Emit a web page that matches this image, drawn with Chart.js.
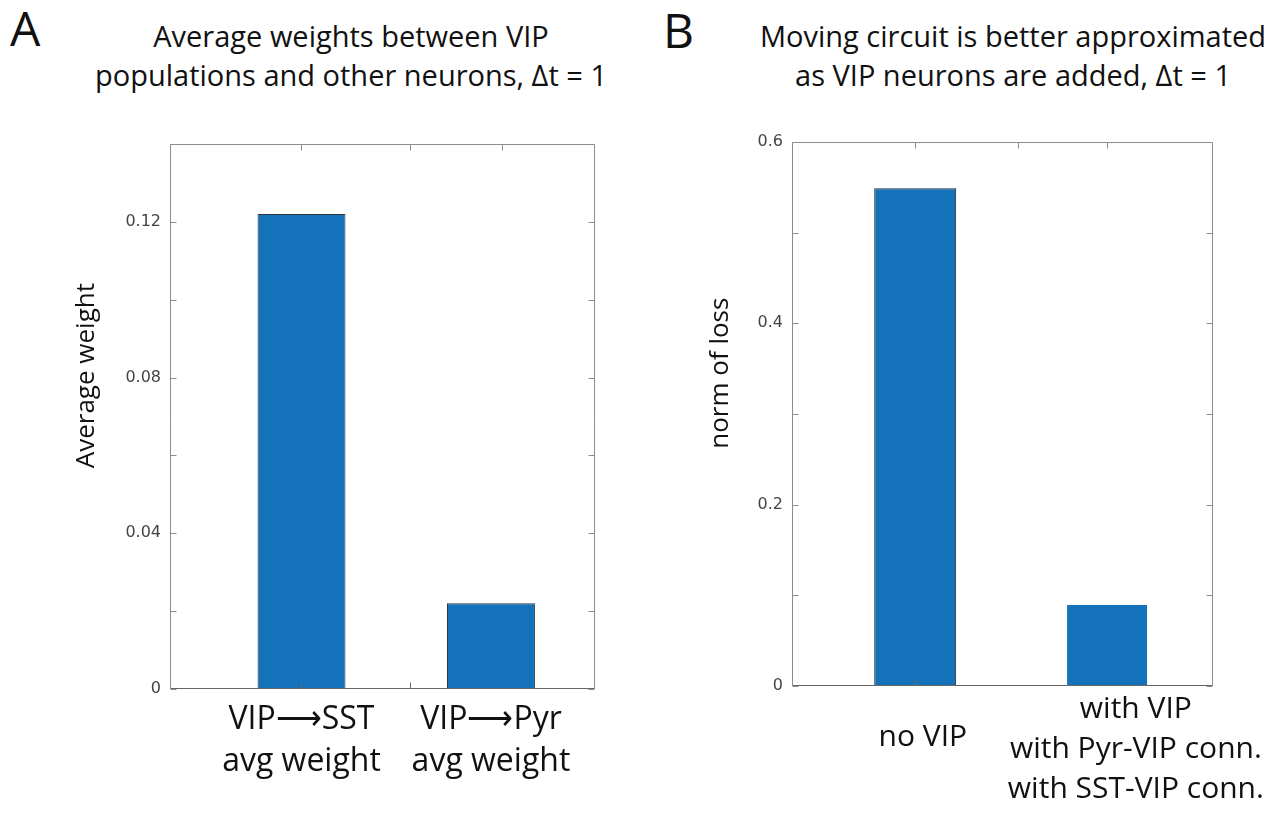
<!DOCTYPE html>
<html>
<head>
<meta charset="utf-8">
<title>VIP weights and loss</title>
<script src="https://cdn.jsdelivr.net/npm/chart.js@4.4.1/dist/chart.umd.min.js"></script>
<style>
    body {
        margin: 0;
        width: 1285px;
        height: 819px;
        position: relative;
        overflow: hidden;
        background: #fff;
        font-family: "Open Sans", sans-serif;
        color: #111;
    }
    .panel { position: absolute; top: 0; height: 819px; }
    .letter { position: absolute; font-size: 48px; line-height: 48px; }
    .title {
        position: absolute;
        text-align: center;
        font-size: 29px;
        line-height: 39px;
        white-space: nowrap;
    }
</style>
</head>
<body>
<div class="letter" style="left:10px; top:4px;">A</div>
<div class="title" style="left:51px; width:600px; top:16px;">Average weights between VIP<br>populations and other neurons, Δt = 1</div>
<div class="letter" style="left:663px; top:6px;">B</div>
<div class="title" style="left:713px; width:600px; top:16px;">Moving circuit is better approximated<br>as VIP neurons are added, Δt = 1</div>

<div class="panel" style="left:0; width:640px;"><canvas id="weightChart"></canvas></div>
<div class="panel" style="left:640px; width:645px;"><canvas id="lossChart"></canvas></div>

<script>
// Panel A: average VIP weights
const weightLabels = [['VIP⟶SST', 'avg weight'], ['VIP⟶Pyr', 'avg weight']];
const weightPos = [1, 2];
const weightValues = [0.122, 0.022];
const weightLabelAt = [1, 2];
const weightTopTicks = [1, 1.575, 2.06];
const weightBottomTicks = [1, 1.575];
const weightTickLabels = ['0', '0.04', '0.08', '0.12'];

// Panel B: norm of loss with / without VIP
const lossLabels = [['no VIP'], ['with VIP', 'with Pyr-VIP conn.', 'with SST-VIP conn.']];
const lossPos = [1, 2];
const lossValues = [0.549, 0.0905];
const lossLabelAt = [1.04, 2.15];
const lossTopTicks = [1, 1.536, 2];
const lossBottomTicks = [1];
const lossTickLabels = ['0', '0.2', '0.4', '0.6'];

const BAR_BLUE = '#1372ba';

// MATLAB-style box with inward ticks, plus the rotated y label
const axesBox = {
    id: 'axesBox',
    afterDatasetsDraw(chart, args, opts) {
        const { ctx, chartArea: a, scales: { x, y } } = chart;
        const len = 6;
        const L = Math.round(a.left) + 0.5, R = Math.round(a.right) - 0.5;
        const T = Math.round(a.top) + 0.5, B = Math.round(a.bottom) - 0.5;
        ctx.save();
        ctx.lineWidth = 1;
        ctx.strokeStyle = '#8c8c8c';
        ctx.beginPath();
        ctx.moveTo(L, B); ctx.lineTo(L, T); ctx.lineTo(R, T); ctx.lineTo(R, B);
        y.ticks.forEach(t => {
            const py = Math.round(y.getPixelForValue(t.value)) + 0.5;
            ctx.moveTo(L, py); ctx.lineTo(L + len, py);
            ctx.moveTo(R, py); ctx.lineTo(R - len, py);
        });
        opts.top.forEach(v => {
            const px = Math.round(x.getPixelForValue(v)) + 0.5;
            ctx.moveTo(px, T); ctx.lineTo(px, T + len);
        });
        ctx.stroke();

        ctx.strokeStyle = '#666';
        ctx.beginPath();
        ctx.moveTo(L, B); ctx.lineTo(R, B);
        opts.bottom.forEach(v => {
            const px = Math.round(x.getPixelForValue(v)) + 0.5;
            ctx.moveTo(px, B); ctx.lineTo(px, B - len);
        });
        ctx.stroke();

        ctx.translate(a.left - opts.titleOffset, a.top + opts.titleFrac * (a.bottom - a.top));
        ctx.rotate(-Math.PI / 2);
        ctx.fillStyle = '#111';
        ctx.font = '26px "Open Sans"';
        ctx.textAlign = 'center';
        ctx.textBaseline = 'middle';
        ctx.fillText(opts.title, 0, 0);
        ctx.restore();
    }
};

function tickText(list) {
    return v => list.find(s => Math.abs(Number(s) - v) < 1e-9) ?? '';
}

function makePanel(id, p) {
    return new Chart(document.getElementById(id), {
        type: 'bar',
        data: {
            datasets: [{
                data: p.pos.map((x, i) => ({ x: x, y: p.values[i] })),
                backgroundColor: BAR_BLUE,
                borderColor: p.borders,
                borderWidth: 1,
                borderSkipped: 'bottom',
                barPercentage: p.barPct,
                categoryPercentage: 1
            }]
        },
        plugins: [axesBox],
        options: {
            responsive: true,
            maintainAspectRatio: false,
            animation: false,
            devicePixelRatio: 1,
            layout: { padding: p.padding },
            plugins: {
                legend: { display: false },
                tooltip: { enabled: false },
                axesBox: {
                    top: p.topTicks,
                    bottom: p.bottomTicks,
                    title: p.yTitle,
                    titleOffset: p.titleOffset,
                    titleFrac: 0.425
                }
            },
            scales: {
                x: {
                    type: 'linear',
                    min: p.xMin,
                    max: p.xMax,
                    offset: false,
                    grid: { display: false, drawTicks: false },
                    border: { display: false },
                    afterBuildTicks: s => { s.ticks = p.labelAt.map(v => ({ value: v })); },
                    afterFit: s => { s.height = p.xHeight; },
                    ticks: {
                        autoSkip: false,
                        maxRotation: 0,
                        minRotation: 0,
                        padding: p.xPad,
                        color: '#111',
                        font: p.xFont,
                        callback: (v, i) => p.labels[i]
                    }
                },
                y: {
                    min: 0,
                    max: p.yMax,
                    grid: { display: false, drawTicks: false },
                    border: { display: false },
                    afterFit: s => { s.width = p.yWidth; },
                    ticks: {
                        stepSize: p.step,
                        padding: 9,
                        color: '#444',
                        font: { family: 'DejaVu Sans', size: 16 },
                        callback: tickText(p.tickLabels)
                    }
                }
            }
        }
    });
}

makePanel('weightChart', {
    pos: weightPos,
    values: weightValues,
    labels: weightLabels,
    labelAt: weightLabelAt,
    topTicks: weightTopTicks,
    bottomTicks: weightBottomTicks,
    tickLabels: weightTickLabels,
    borders: ['#333', '#333'],
    barPct: 0.464,
    xMin: 0.306,
    xMax: 2.549,
    yMax: 0.14,
    step: 0.02,
    padding: { left: 0, top: 144, right: 45, bottom: 0 },
    yWidth: 170,
    xHeight: 130,
    xPad: 10,
    xFont: { family: 'Open Sans', size: 32, lineHeight: '42px' },
    yTitle: 'Average weight',
    titleOffset: 83
});

makePanel('lossChart', {
    pos: lossPos,
    values: lossValues,
    labels: lossLabels,
    labelAt: lossLabelAt,
    topTicks: lossTopTicks,
    bottomTicks: lossBottomTicks,
    tickLabels: lossTickLabels,
    borders: ['#222', 'rgba(0,0,0,0)'],
    barPct: 0.427,
    xMin: 0.358,
    xMax: 2.552,
    yMax: 0.6,
    step: 0.1,
    padding: { left: 0, top: 142, right: 72, bottom: 0 },
    yWidth: 152,
    xHeight: 133,
    xPad: 3,
    // the single-line label sits lower, between the first two lines of its neighbour
    xFont: ctx => ({ family: 'Open Sans', size: 30, lineHeight: ctx.index === 0 ? '96px' : '40px' }),
    yTitle: 'norm of loss',
    titleOffset: 71
});
</script>
</body>
</html>
